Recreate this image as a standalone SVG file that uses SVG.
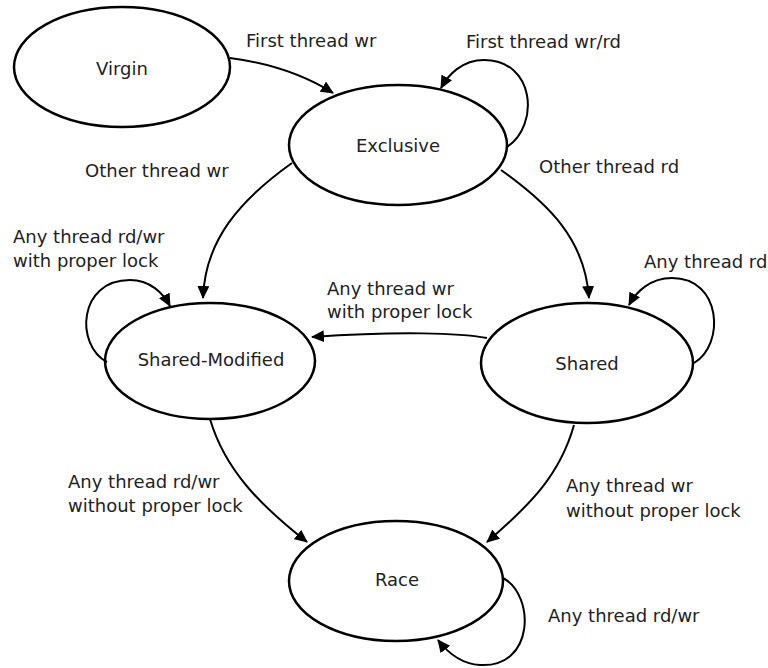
<svg xmlns="http://www.w3.org/2000/svg" width="768" height="668" viewBox="0 0 768 668">
<style>
.node{fill:#fff;stroke:#000;stroke-width:2.5}
.edge{fill:none;stroke:#000;stroke-width:2;marker-end:url(#arr)}
text{font-family:"DejaVu Sans",Verdana,sans-serif;font-size:18px;fill:#222}
.c{text-anchor:middle}
</style>
<defs>
<marker id="arr" viewBox="0 0 13 12" refX="12" refY="6" markerWidth="13" markerHeight="12" markerUnits="userSpaceOnUse" orient="auto">
<path d="M0,0 L13,6 L0,12 z" fill="#000"/>
</marker>
</defs>
<rect width="768" height="668" fill="#fff"/>
<g id="nodes">
<g id="virgin"><ellipse class="node" cx="122" cy="67" rx="108" ry="60"/><text class="c" x="122" y="75">Virgin</text></g>
<g id="exclusive"><ellipse class="node" cx="398" cy="145" rx="109" ry="60"/><text class="c" x="398" y="152">Exclusive</text></g>
<g id="shared-modified"><ellipse class="node" cx="210" cy="361" rx="105" ry="58"/><text class="c" x="211" y="366">Shared-Modified</text></g>
<g id="shared"><ellipse class="node" cx="587" cy="363" rx="106" ry="60"/><text class="c" x="587" y="370">Shared</text></g>
<g id="race"><ellipse class="node" cx="396" cy="581" rx="107" ry="60"/><text class="c" x="397" y="586">Race</text></g>
</g>
<g id="connectors">
<path class="edge" d="M230,58 Q290,66 333,93"/>
<path class="edge" d="M507,147 C540,125 535,60 484,60 C462,60 448,75 441,88"/>
<path class="edge" d="M292,163 C240,200 205,240 203,298"/>
<path class="edge" d="M501,170 C550,205 585,240 589,298"/>
<path class="edge" d="M487,338 C460,333 400,331 312,337"/>
<path class="edge" d="M107,362 C75,345 78,280 130,280 C150,280 163,293 170,306"/>
<path class="edge" d="M694,363 C725,345 722,278 672,278 C650,278 636,292 629,305"/>
<path class="edge" d="M210,419 C225,470 260,505 307,542"/>
<path class="edge" d="M574,425 C560,475 530,505 487,542"/>
<path class="edge" d="M503,578 C535,595 535,668 480,665 C462,664 448,653 438,640"/>
</g>
<g id="labels">
<text x="246" y="47">First thread wr</text>
<text x="466" y="48">First thread wr/rd</text>
<text x="85" y="177">Other thread wr</text>
<text x="539" y="173">Other thread rd</text>
<text x="13" y="243">Any thread rd/wr</text>
<text x="13" y="267">with proper lock</text>
<text x="644" y="268">Any thread rd</text>
<text x="327" y="295">Any thread wr</text>
<text x="327" y="318">with proper lock</text>
<text x="68" y="488">Any thread rd/wr</text>
<text x="68" y="512">without proper lock</text>
<text x="566" y="492">Any thread wr</text>
<text x="566" y="517">without proper lock</text>
<text x="548" y="622">Any thread rd/wr</text>
</g>
</svg>
